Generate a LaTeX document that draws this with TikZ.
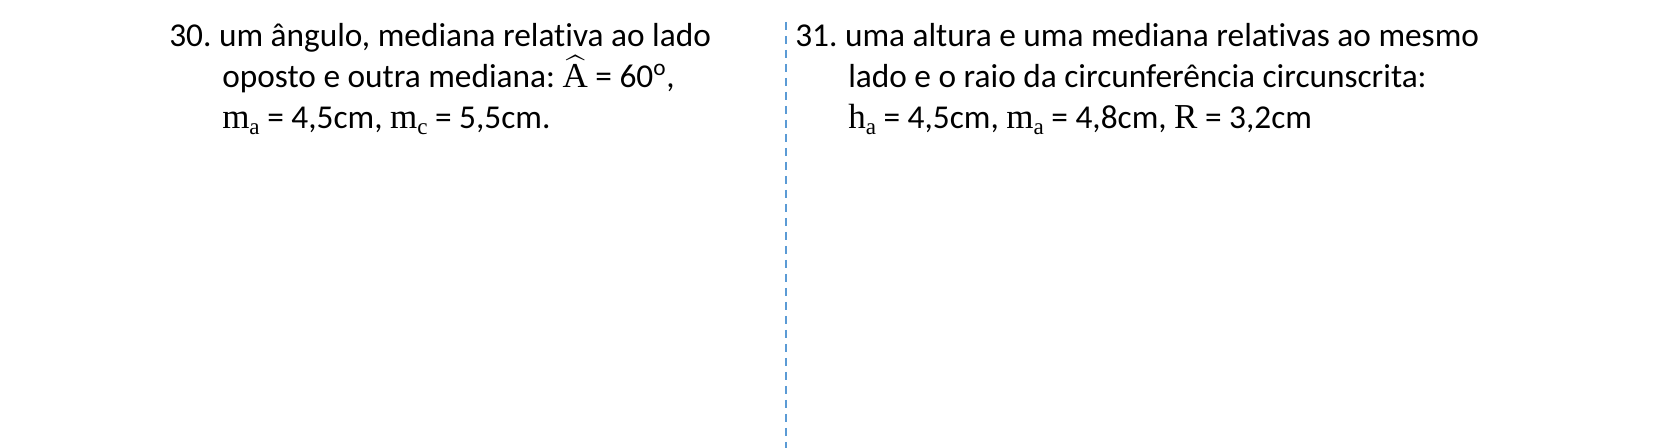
\documentclass[tikz,border=0pt]{standalone}
\usepackage{amsmath}
\usepackage{fontspec}
\setmainfont{Carlito}[Ligatures=NoCommon]
\newfontfamily\mf{Liberation Serif}[Scale=1.05]
\frenchspacing
\newcommand{\subv}[2]{{\mf #1}\raisebox{-0.17em}{\fontsize{16.5pt}{20pt}\selectfont\mf #2}}
\tikzset{
  txt/.style={anchor=base west, inner sep=0pt, font=\fontsize{25pt}{30pt}\selectfont},
  sep/.style={draw={rgb,255:red,91;green,155;blue,213}, line width=1.5pt, dash pattern=on 6pt off 4.5pt}
}
\begin{document}
\begin{tikzpicture}[x=0.75pt,y=-0.75pt]
\useasboundingbox (0,0) rectangle (1653,448);
\node[txt] (l1) at (169,47) {30. um ângulo, mediana relativa ao lado};
\node[txt] (l2) at (222,88) {oposto e outra mediana: $\widehat{\mbox{\mf A}}$ = 60\textsuperscript{o},};
\node[txt] (l3) at (222,129) {\subv{m}{a} = 4,5cm, \subv{m}{c} = 5,5cm.};
\node[txt] (r1) at (795,47) {31. uma altura e uma mediana relativas ao mesmo};
\node[txt] (r2) at (848,88) {lado e o raio da circunferência circunscrita:};
\node[txt] (r3) at (848,129) {\subv{h}{a} = 4,5cm, \subv{m}{a} = 4,8cm, {\mf R} = 3,2cm};
\coordinate (st) at (786,22);
\coordinate (en) at (786,448);
\draw[sep] (st) -- (en);
\end{tikzpicture}
\end{document}
